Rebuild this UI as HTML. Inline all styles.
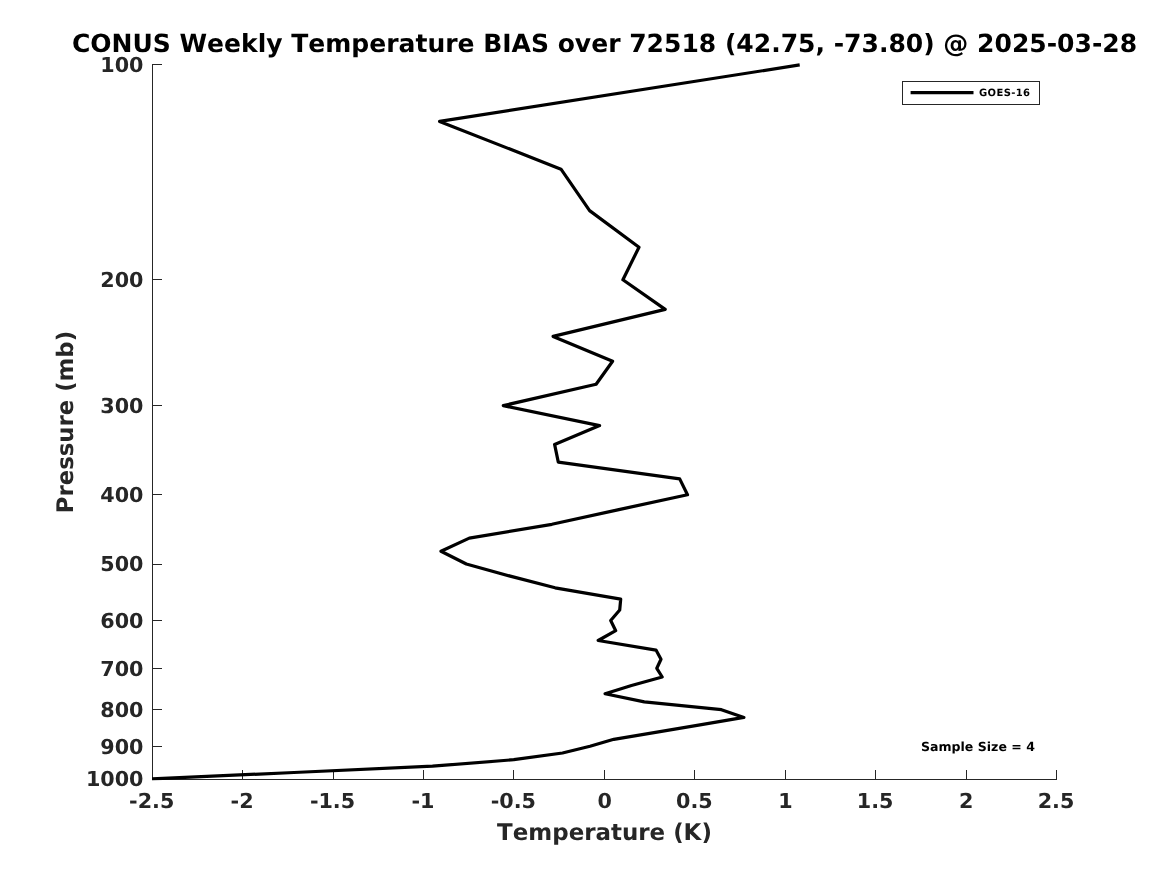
<!DOCTYPE html>
<html lang="en"><head><meta charset="utf-8"><title>CONUS Weekly Temperature BIAS</title>
<style>
html,body{margin:0;padding:0;background:#fff;}
body{width:1167px;height:875px;overflow:hidden;}
svg{display:block;font-family:"DejaVu Sans","Liberation Sans",sans-serif;font-weight:bold;font-kerning:none;font-variant-ligatures:none;text-rendering:geometricPrecision;}
.tl{font-size:20.7px;}
.al{font-size:22.95px;}
.ti{font-size:25.03px;}
.lg{font-size:10px;letter-spacing:0.37px;}
.ss{font-size:12.55px;}
</style></head><body>
<svg width="1167" height="875" viewBox="0 0 1167 875">
<rect width="1167" height="875" fill="#fff"/>
<g stroke="#262626" stroke-width="1" fill="none" shape-rendering="crispEdges">
<line x1="152.5" y1="64.0" x2="152.5" y2="780.0"/>
<line x1="152.0" y1="779.5" x2="1057.0" y2="779.5"/>
<line x1="152.5" y1="64.5" x2="162.0" y2="64.5"/>
<line x1="152.5" y1="279.5" x2="162.0" y2="279.5"/>
<line x1="152.5" y1="405.5" x2="162.0" y2="405.5"/>
<line x1="152.5" y1="494.5" x2="162.0" y2="494.5"/>
<line x1="152.5" y1="564.5" x2="162.0" y2="564.5"/>
<line x1="152.5" y1="620.5" x2="162.0" y2="620.5"/>
<line x1="152.5" y1="668.5" x2="162.0" y2="668.5"/>
<line x1="152.5" y1="709.5" x2="162.0" y2="709.5"/>
<line x1="152.5" y1="746.5" x2="162.0" y2="746.5"/>
<line x1="242.5" y1="779.5" x2="242.5" y2="770.0"/>
<line x1="333.5" y1="779.5" x2="333.5" y2="770.0"/>
<line x1="423.5" y1="779.5" x2="423.5" y2="770.0"/>
<line x1="513.5" y1="779.5" x2="513.5" y2="770.0"/>
<line x1="604.5" y1="779.5" x2="604.5" y2="770.0"/>
<line x1="694.5" y1="779.5" x2="694.5" y2="770.0"/>
<line x1="785.5" y1="779.5" x2="785.5" y2="770.0"/>
<line x1="875.5" y1="779.5" x2="875.5" y2="770.0"/>
<line x1="966.5" y1="779.5" x2="966.5" y2="770.0"/>
<line x1="1056.5" y1="779.5" x2="1056.5" y2="770.0"/>
</g>
<g class="tl" fill="#262626">
<text x="143.5" y="72.0" text-anchor="end">100</text>
<text x="143.5" y="287.0" text-anchor="end">200</text>
<text x="143.5" y="413.1" text-anchor="end">300</text>
<text x="143.5" y="501.5" text-anchor="end">400</text>
<text x="143.5" y="570.8" text-anchor="end">500</text>
<text x="143.5" y="628.3" text-anchor="end">600</text>
<text x="143.5" y="675.9" text-anchor="end">700</text>
<text x="143.5" y="716.5" text-anchor="end">800</text>
<text x="143.5" y="753.6" text-anchor="end">900</text>
<text x="143.5" y="785.6" text-anchor="end">1000</text>
<text x="151.7" y="807.8" text-anchor="middle">-2.5</text>
<text x="242.1" y="807.8" text-anchor="middle">-2</text>
<text x="332.5" y="807.8" text-anchor="middle">-1.5</text>
<text x="422.9" y="807.8" text-anchor="middle">-1</text>
<text x="513.3" y="807.8" text-anchor="middle">-0.5</text>
<text x="604.7" y="807.8" text-anchor="middle">0</text>
<text x="694.4" y="807.8" text-anchor="middle">0.5</text>
<text x="785.5" y="807.8" text-anchor="middle">1</text>
<text x="875.2" y="807.8" text-anchor="middle">1.5</text>
<text x="966.3" y="807.8" text-anchor="middle">2</text>
<text x="1056.0" y="807.8" text-anchor="middle">2.5</text>
</g>
<text class="al" x="604.5" y="840" text-anchor="middle" fill="#262626">Temperature (K)</text>
<text class="al" style="font-size:22.8px" transform="translate(73,422.1) rotate(-90)" text-anchor="middle" fill="#262626">Pressure (mb)</text>
<text class="ti" x="604.5" y="52" text-anchor="middle" fill="#000">CONUS Weekly Temperature BIAS over 72518 (42.75, -73.80) @ 2025-03-28</text>
<clipPath id="c"><rect x="152.0" y="62.5" width="905.0" height="718.0"/></clipPath>
<polyline clip-path="url(#c)" points="799.7,64.9 439.6,121.4 561.0,169.2 589.6,210.6 639.0,247.2 622.9,279.8 665.2,309.4 553.1,336.4 612.6,361.2 596.1,384.2 503.3,405.6 599.6,425.6 554.6,444.4 558.3,462.1 679.7,478.9 687.5,494.8 617.7,509.9 551.9,524.3 469.3,538.1 441.0,551.3 466.3,564.0 510.2,576.1 555.1,587.8 620.7,599.1 619.7,610.0 610.7,620.5 615.7,630.7 598.2,640.5 656.0,650.1 661.0,659.3 656.8,668.3 662.2,677.0 631.5,685.5 605.1,693.8 644.3,701.9 721.4,709.7 743.9,717.4 700.0,724.8 657.0,732.1 613.8,739.3 590.0,746.2 562.5,753.0 513.8,759.7 432.5,766.2 294.0,772.5 150.0,779.0" fill="none" stroke="#000" stroke-width="3.2" stroke-linejoin="round" stroke-linecap="butt"/>
<rect x="902.5" y="81.5" width="137" height="23" fill="#fff" stroke="#262626" stroke-width="1" shape-rendering="crispEdges"/>
<line x1="910.6" y1="92.6" x2="973.5" y2="92.6" stroke="#000" stroke-width="3.2"/>
<text class="lg" x="979" y="96.2" fill="#000">GOES-16</text>
<text class="ss" x="921" y="751" fill="#000">Sample Size = 4</text>
</svg>
</body></html>
